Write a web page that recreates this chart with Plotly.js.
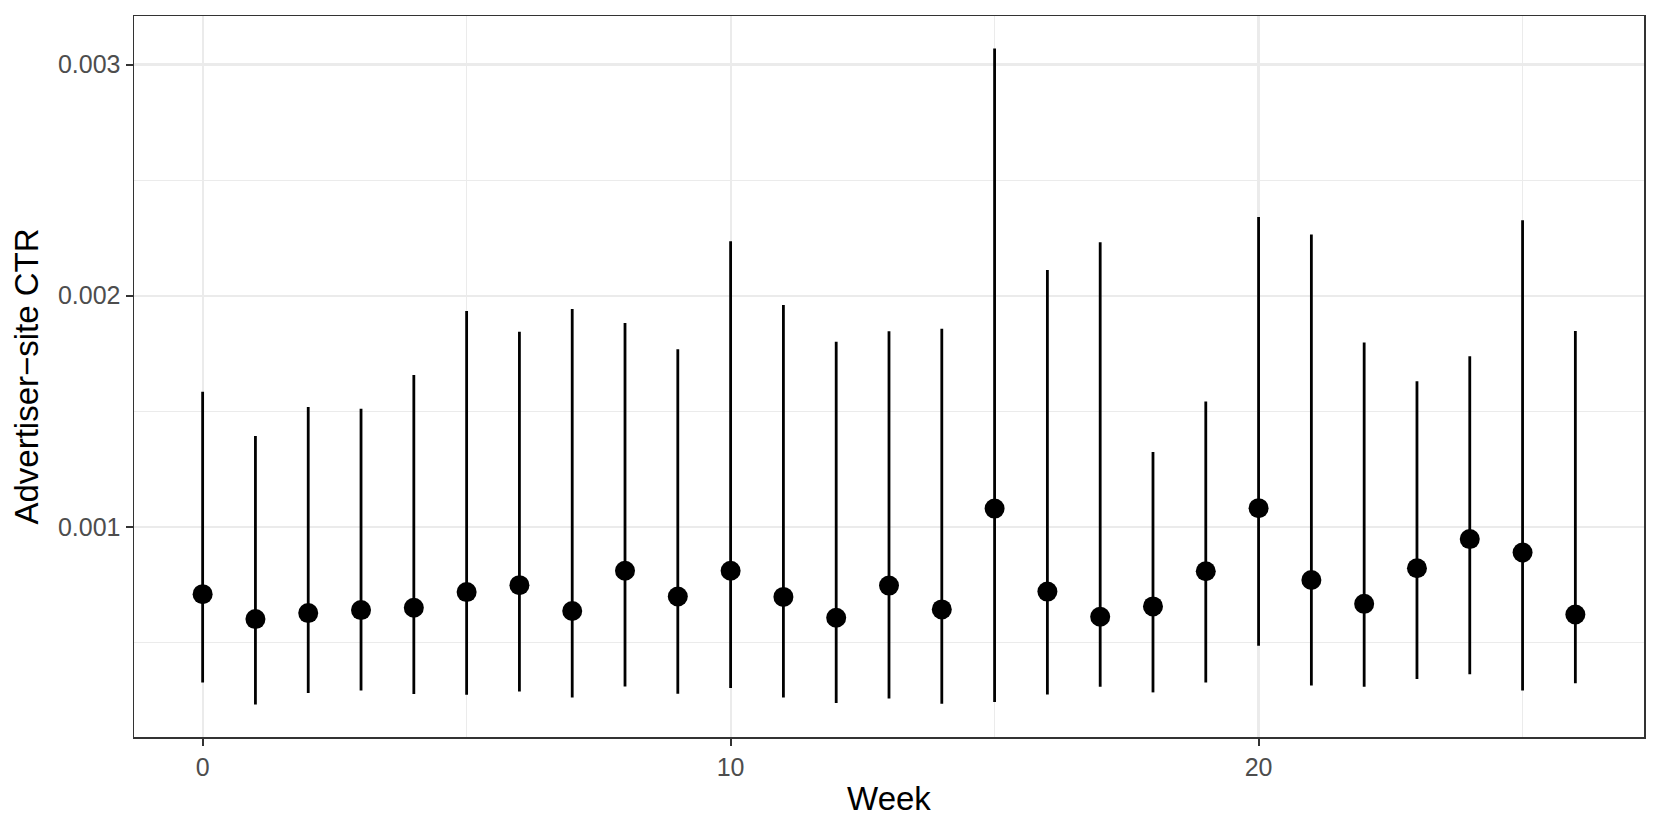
<!DOCTYPE html>
<html>
<head>
<meta charset="utf-8">
<script src="https://cdn.plot.ly/plotly-3.0.1.min.js"></script>
<style>
html, body { margin: 0; padding: 0; background: #ffffff; }
#chart { width: 1661px; height: 830px; }
</style>
</head>
<body>
<div id="chart"></div>
<script>
// Week index
var weeks = [0, 1, 2, 3, 4, 5, 6, 7, 8, 9, 10, 11, 12, 13, 14, 15, 16, 17, 18, 19, 20, 21, 22, 23, 24, 25, 26];
// Estimated advertiser-site CTR (point estimate)
var ctr = [0.000709, 0.000601, 0.000627, 0.000640, 0.000650, 0.000718, 0.000748, 0.000636, 0.000810, 0.000699,
           0.000810, 0.000697, 0.000607, 0.000746, 0.000643, 0.001079, 0.000720, 0.000611, 0.000656, 0.000808,
           0.001081, 0.000770, 0.000667, 0.000821, 0.000947, 0.000889, 0.000621];
// Lower bound of interval
var lower = [0.000327, 0.000232, 0.000281, 0.000292, 0.000277, 0.000274, 0.000288, 0.000262, 0.000310, 0.000278,
             0.000303, 0.000262, 0.000238, 0.000258, 0.000235, 0.000242, 0.000275, 0.000308, 0.000284, 0.000327,
             0.000486, 0.000314, 0.000308, 0.000342, 0.000362, 0.000292, 0.000323];
// Upper bound of interval
var upper = [0.001584, 0.001393, 0.001519, 0.001511, 0.001657, 0.001934, 0.001844, 0.001942, 0.001882, 0.001768,
             0.002236, 0.001960, 0.001801, 0.001846, 0.001857, 0.003069, 0.002111, 0.002231, 0.001324, 0.001542,
             0.002340, 0.002265, 0.001798, 0.001630, 0.001738, 0.002326, 0.001847];

var errPlus = upper.map(function (u, i) { return u - ctr[i]; });
var errMinus = lower.map(function (l, i) { return ctr[i] - l; });

var trace = {
  type: 'scatter',
  mode: 'markers',
  x: weeks,
  y: ctr,
  marker: { color: '#000000', size: 20, line: { width: 0 } },
  error_y: {
    type: 'data',
    symmetric: false,
    array: errPlus,
    arrayminus: errMinus,
    color: '#000000',
    thickness: 2.8,
    width: 0
  },
  hoverinfo: 'x+y'
};

var fontFam = '"Liberation Sans", Arial, Helvetica, sans-serif';

var layout = {
  width: 1661,
  height: 830,
  paper_bgcolor: '#ffffff',
  plot_bgcolor: '#ffffff',
  showlegend: false,
  margin: { l: 134, r: 17, t: 16, b: 93, pad: 0 },
  font: { family: fontFam, color: '#000000' },
  xaxis: {
    range: [-1.3, 27.3],
    tickmode: 'linear',
    tick0: 0,
    dtick: 10,
    showgrid: true,
    gridcolor: '#EBEBEB',
    gridwidth: 2.2,
    minor: { tick0: 0, dtick: 5, showgrid: true, gridcolor: '#EBEBEB', gridwidth: 1.1, ticks: '' },
    zeroline: false,
    showline: true,
    linecolor: '#333333',
    linewidth: 1.5,
    mirror: true,
    ticks: 'outside',
    ticklen: 7,
    tickwidth: 2,
    tickcolor: '#333333',
    tickfont: { family: fontFam, size: 25, color: '#4D4D4D' },
    title: { text: 'Week', font: { family: fontFam, size: 33, color: '#000000' }, standoff: 7 },
    automargin: false
  },
  yaxis: {
    range: [0.000091, 0.003210],
    tickmode: 'array',
    tickvals: [0.001, 0.002, 0.003],
    ticktext: ['0.001', '0.002', '0.003'],
    showgrid: true,
    gridcolor: '#EBEBEB',
    gridwidth: 2.2,
    minor: { tickmode: 'array', tickvals: [0.0005, 0.0015, 0.0025], showgrid: true, gridcolor: '#EBEBEB', gridwidth: 1.1, ticks: '' },
    zeroline: false,
    showline: true,
    linecolor: '#333333',
    linewidth: 1.5,
    mirror: true,
    ticks: 'outside',
    ticklen: 7,
    tickwidth: 2,
    tickcolor: '#333333',
    tickfont: { family: fontFam, size: 25, color: '#4D4D4D' },
    title: { text: 'Advertiser\u2212site CTR', font: { family: fontFam, size: 33, color: '#000000' }, standoff: 9 },
    automargin: false
  }
};

Plotly.newPlot('chart', [trace], layout, { displayModeBar: false, staticPlot: true });
</script>
</body>
</html>
